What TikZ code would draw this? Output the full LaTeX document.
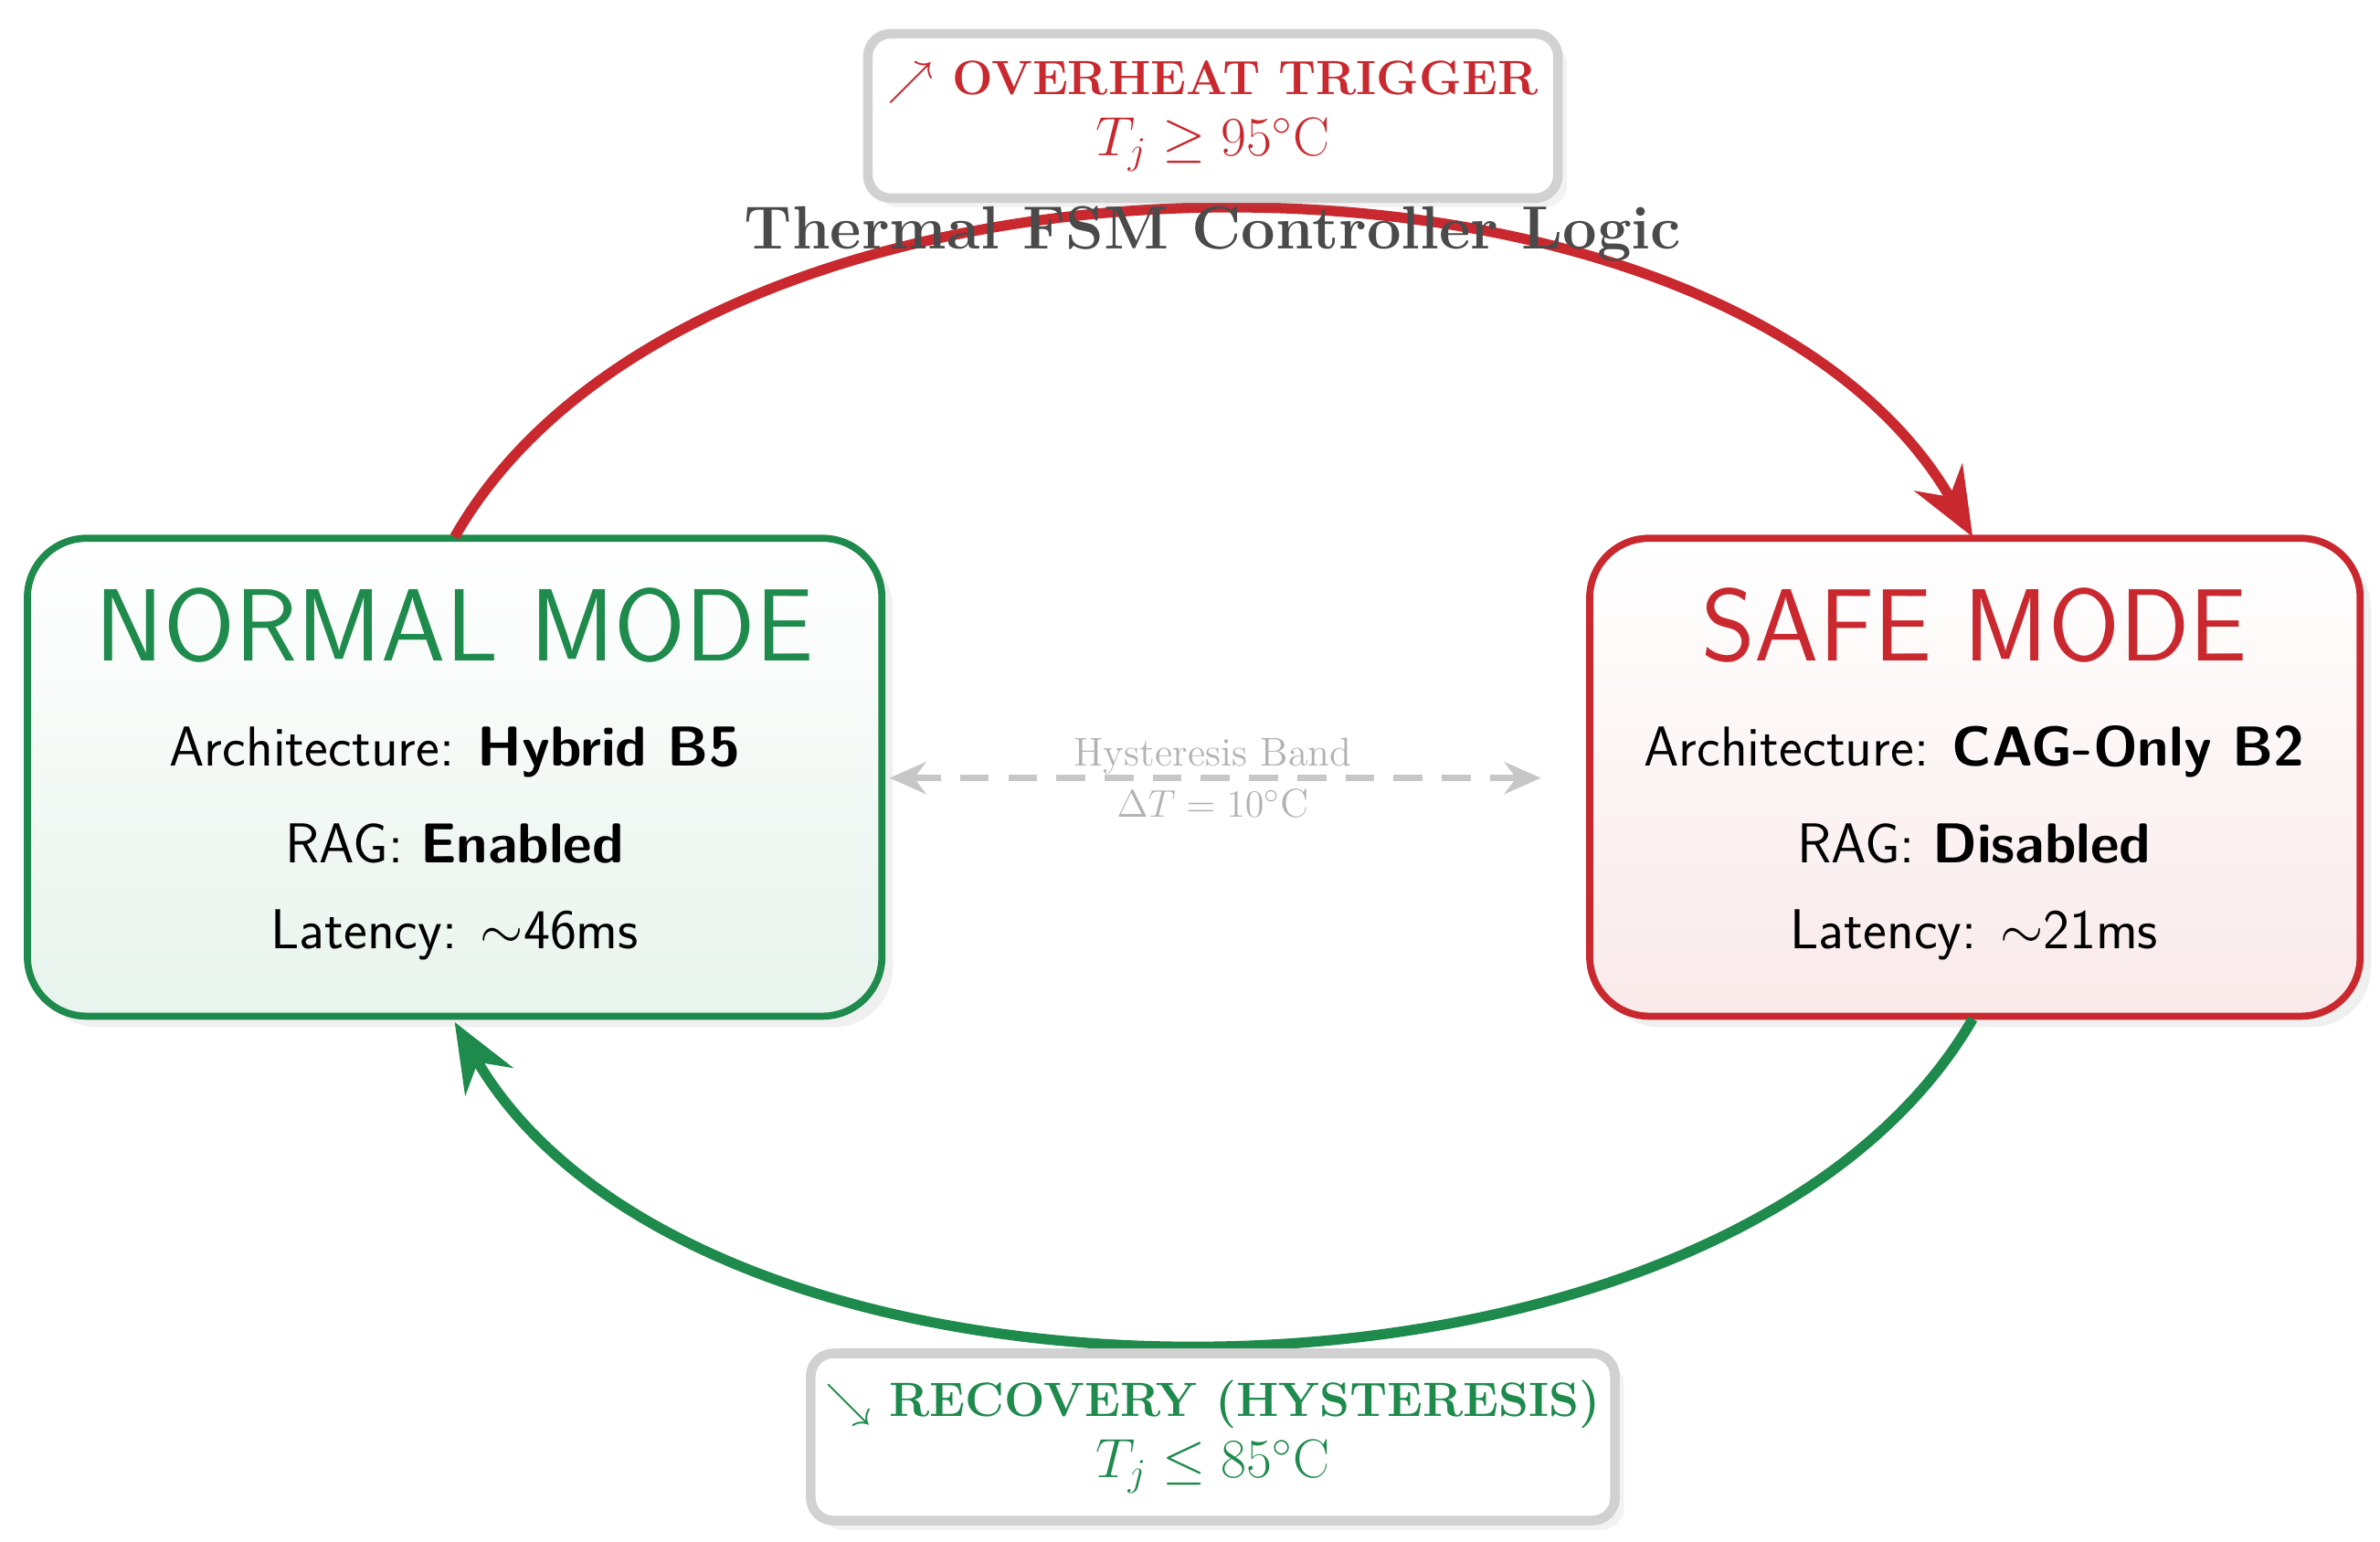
\documentclass[tikz,border=0pt]{standalone}
\usepackage{amssymb}
\usetikzlibrary{shadows,arrows.meta}
\definecolor{gr}{HTML}{1E8A4C}
\definecolor{rd}{HTML}{C8282E}
\definecolor{tg}{HTML}{4A4A4A}
\tikzset{
 mode/.style={rounded corners=0.65cm,line width=2.2pt,drop shadow={shadow xshift=0.12cm,shadow yshift=-0.12cm,opacity=0.12}},
 lbl/.style={draw=black!18,fill=white,line width=3pt,rounded corners=0.25cm,align=center,font=\bfseries\fontsize{15}{18}\selectfont,drop shadow={shadow xshift=0.1cm,shadow yshift=-0.1cm,opacity=0.1}},
 body/.style={font=\sffamily\fontsize{17.5}{20}\selectfont},
 trans/.style={line width=3.2pt,-{Stealth[length=0.75cm,width=0.6cm]}}
}
\begin{document}
\begin{tikzpicture}[x=0.0167cm,y=-0.0167cm]
\useasboundingbox (0,0) rectangle (1560,1010.8);
\node[mode,draw=gr,top color=white,bottom color=gr!10,minimum width=9.35cm,minimum height=5.23cm] (normal) at (298,509.5) {};
\node[mode,draw=rd,top color=white,bottom color=rd!10,minimum width=8.43cm,minimum height=5.23cm] (safe) at (1294.5,509.5) {};
\node[text=gr,font=\sffamily\fontsize{32}{34}\selectfont] (nt) at (298,410) {NORMAL MODE};
\node[body] (n1) at (298,493) {Architecture: \textbf{Hybrid B5}};
\node[body] (n2) at (298,553) {RAG: \textbf{Enabled}};
\node[body] (n3) at (298,613) {Latency: $\sim$46ms};
\node[text=rd,font=\sffamily\fontsize{32}{34}\selectfont] (st) at (1294,410) {SAFE MODE};
\node[body] (s1) at (1294,493) {Architecture: \textbf{CAG-Only B2}};
\node[body] (s2) at (1294,553) {RAG: \textbf{Disabled}};
\node[body] (s3) at (1294,613) {Latency: $\sim$21ms};
\coordinate (rs) at (298,352); \coordinate (re) at (1293,352);
\coordinate (gs) at (1293,668); \coordinate (ge) at (298,670);
\draw[trans,rd] (rs) .. controls (460,68) and (1130,68) .. (re);
\draw[trans,gr] (gs) .. controls (1130,950) and (460,950) .. (ge);
\node[font=\bfseries\fontsize{19}{22}\selectfont,text=tg] (title) at (795,153) {Thermal FSM Controller Logic};
\node[lbl,text=rd,minimum width=7.55cm,minimum height=1.8cm] (oh) at (795,76) {$\nearrow$ OVERHEAT TRIGGER\\[1pt]\mdseries\fontsize{17}{20}\selectfont$T_j \geq 95^\circ$C};
\node[lbl,text=gr,minimum width=8.8cm,minimum height=1.83cm] (rc) at (795,942) {$\searrow$ RECOVERY (HYSTERESIS)\\[1pt]\mdseries\fontsize{17}{20}\selectfont$T_j \leq 85^\circ$C};
\coordinate (hl) at (583,510); \coordinate (hr) at (1010,510);
\draw[black!22,line width=2pt,dash pattern=on 9pt off 6pt,{Stealth[length=0.4cm,width=0.35cm]}-{Stealth[length=0.4cm,width=0.35cm]}] (hl) -- (hr);
\node[text=black!30,font=\fontsize{12.5}{15}\selectfont,align=center] (hb) at (795,510) {Hysteresis Band\\[1pt]$\Delta T = 10^\circ$C};
\end{tikzpicture}
\end{document}
